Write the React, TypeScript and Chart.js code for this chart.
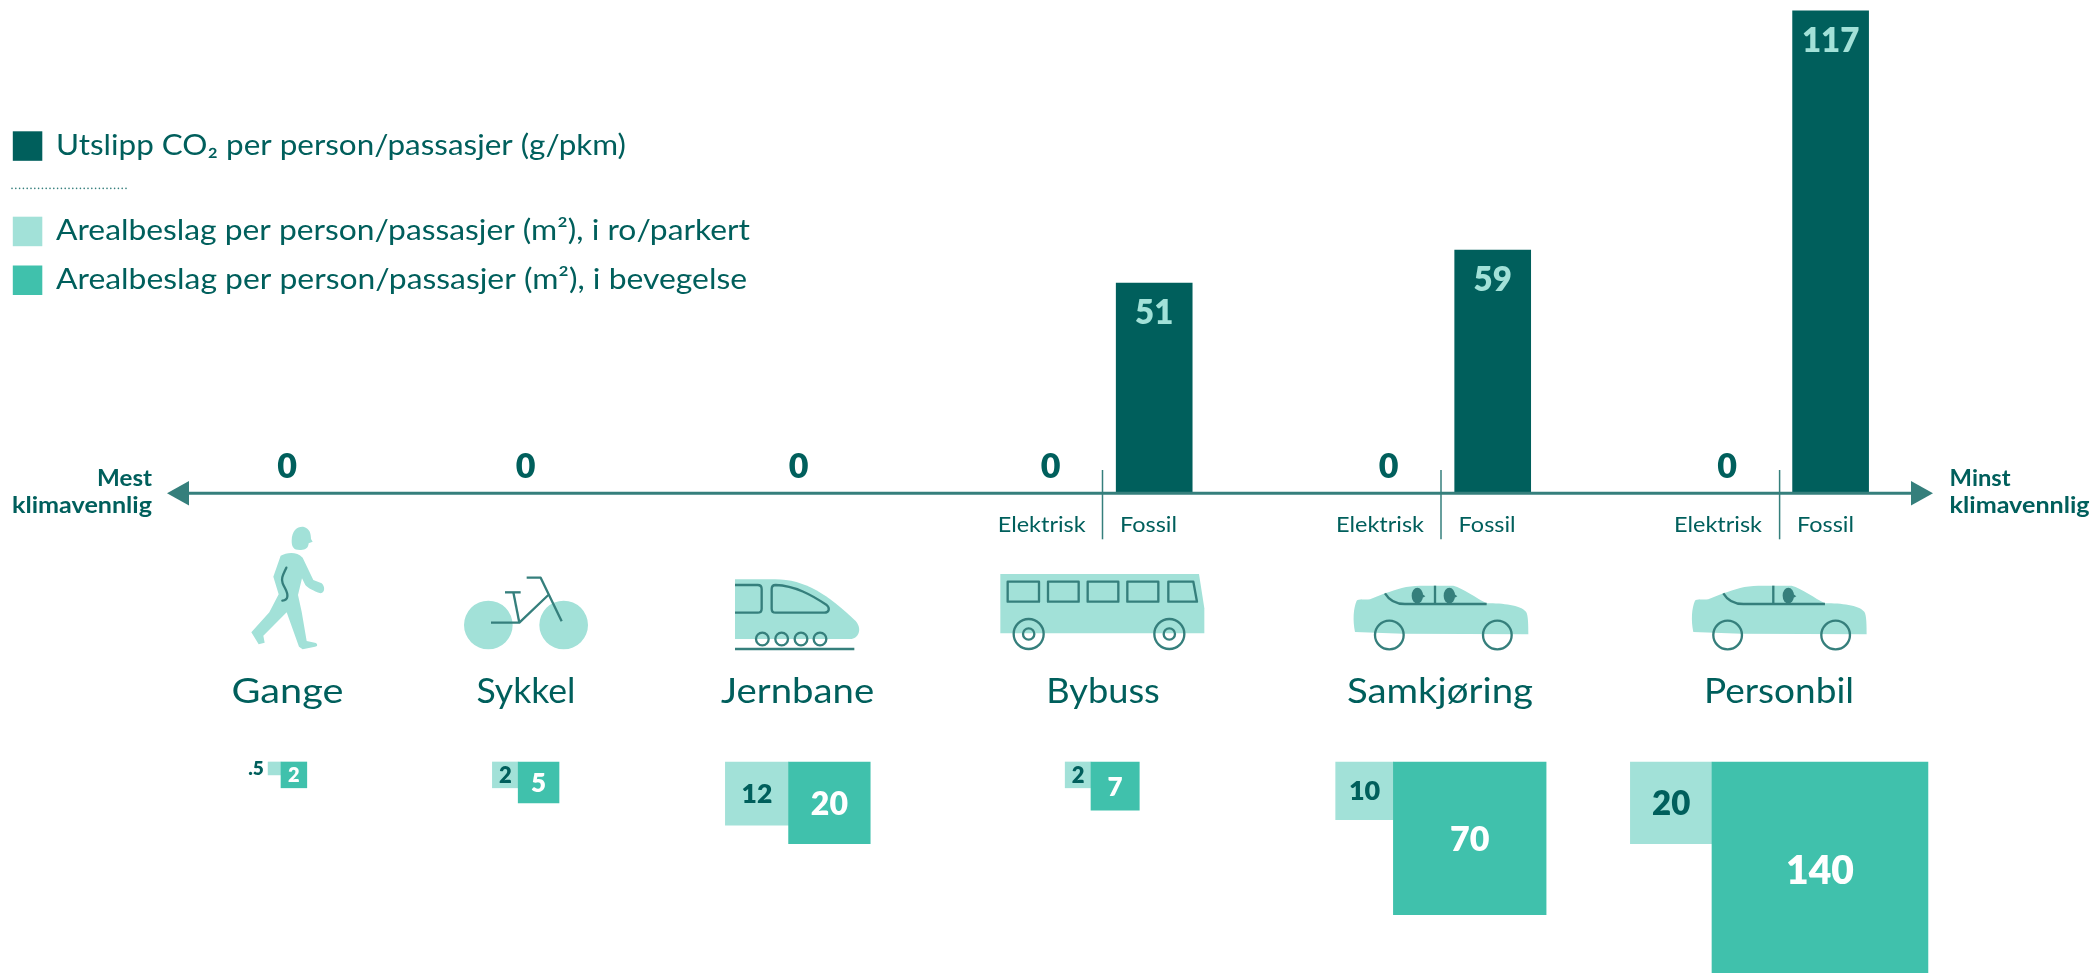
import React, { useEffect, useRef } from "react";
import { Chart, registerables } from "chart.js";

Chart.register(...registerables);

// ---- data ----
const categories = ["Gange", "Sykkel", "Jernbane", "Bybuss", "Samkjøring", "Personbil"];
const co2Zero = [0, 0, 0, 0, 0, 0];
const co2Fossil = [null, null, null, 51, 59, 117];
const parkedArea = [0.5, 2, 12, 2, 10, 20];
const movingArea = [2, 5, 20, 7, 70, 140];
const parkedLabels = [".5", "2", "12", "2", "10", "20"];
const movingLabels = ["2", "5", "20", "7", "70", "140"];
const legendLabels = [
  "Utslipp CO₂ per person/passasjer (g/pkm)",
  "Arealbeslag per person/passasjer (m²), i ro/parkert",
  "Arealbeslag per person/passasjer (m²), i bevegelse",
];
const axisEndLabels = [["Mest", "klimavennlig"], ["Minst", "klimavennlig"]];
const powerLabels = ["Elektrisk", "Fossil"];

// ---- layout and style ----
const W = 2094;
const H = 973;
const DARK = "#005F5C";
const MID = "#40C1AC";
const LIGHT = "#A2E1D8";
const LINE = "#357F7C";
const FONT = "Lato, sans-serif";
const AXIS_Y = 493.3;
const PX_PER_CO2 = 4.124;
const PX_PER_SQRT_M2 = 18.25;
const SQUARE_TOP = 762;
const nameX = [287.4, 526, 797.6, 1103, 1440, 1779];
const nameWidth = [112, 99, 153, 113.5, 186, 150];
const legendWidth = [570, 694, 691];
const zeroX = [287, 525.5, 798.6, 1050.7, 1388.5, 1727];
const fossilX = [0, 0, 0, 1154.2, 1492.7, 1830.6];
const dividerX = [0, 0, 0, 1102.5, 1441, 1779.6];
const elektriskRight = [0, 0, 0, 1085.7, 1424, 1762];
const fossilLeft = [0, 0, 0, 1120, 1458.6, 1797];
const squareJoinX = [281, 518.2, 788.6, 1091, 1393.4, 1712];
const parkedFont = [19, 22, 26.5, 22, 27, 33];
const movingFont = [20, 26, 32, 26, 34, 39];

type Ctx = CanvasRenderingContext2D;

function text(c: Ctx, s: string, x: number, y: number, font: string, color: string, align: CanvasTextAlign = "left", targetWidth = 0) {
  c.save();
  c.font = font;
  c.fillStyle = color;
  c.textAlign = align;
  c.textBaseline = "alphabetic";
  c.translate(x, y);
  if (targetWidth) c.scale(targetWidth / c.measureText(s).width, 1);
  c.fillText(s, 0, 0);
  c.restore();
}

function centred(c: Ctx, s: string, x: number, y: number, font: string, color: string) {
  c.font = font;
  const m = c.measureText(s);
  text(c, s, x, y + (m.actualBoundingBoxAscent - m.actualBoundingBoxDescent) / 2, font, color, "center");
}

function icon(c: Ctx, ox: number, oy: number, draw: () => void) {
  c.save();
  c.translate(ox, oy);
  c.scale(1 / 3, 1 / 3);
  c.lineWidth = 7;
  c.strokeStyle = LINE;
  c.fillStyle = LIGHT;
  c.lineJoin = "round";
  draw();
  c.restore();
}

function poly(c: Ctx, pts: number[][], close = false) {
  c.beginPath();
  pts.forEach((p, i) => (i ? c.lineTo(p[0], p[1]) : c.moveTo(p[0], p[1])));
  if (close) c.closePath();
}

function ring(c: Ctx, x: number, y: number, r: number) {
  c.beginPath();
  c.arc(x, y, r, 0, Math.PI * 2);
  c.stroke();
}

function walker(c: Ctx) {
  icon(c, 230, 515, () => {
    c.beginPath();
    c.moveTo(185, 78);
    c.bezierCurveTo(185, 45, 205, 33, 222, 36);
    c.bezierCurveTo(238, 40, 243, 55, 243, 72);
    c.lineTo(248, 80);
    c.lineTo(236, 85);
    c.bezierCurveTo(235, 100, 225, 106, 210, 105);
    c.bezierCurveTo(190, 105, 185, 95, 185, 78);
    c.closePath();
    c.fill();
    c.beginPath();
    c.moveTo(152, 122);
    c.bezierCurveTo(170, 112, 200, 108, 218, 128);
    c.lineTo(250, 195);
    c.lineTo(275, 205);
    c.bezierCurveTo(285, 215, 286, 232, 272, 235);
    c.bezierCurveTo(250, 228, 232, 218, 226, 210);
    c.lineTo(216, 190);
    c.lineTo(204, 240);
    c.lineTo(215, 290);
    c.lineTo(230, 378);
    c.lineTo(258, 384);
    c.bezierCurveTo(264, 390, 262, 394, 255, 395);
    c.lineTo(218, 403);
    c.lineTo(207, 395);
    c.lineTo(170, 292);
    c.lineTo(100, 362);
    c.lineTo(104, 383);
    c.lineTo(86, 388);
    c.lineTo(64, 352);
    c.lineTo(118, 292);
    c.lineTo(146, 238);
    c.lineTo(130, 185);
    c.closePath();
    c.fill();
    c.lineCap = "round";
    c.beginPath();
    c.moveTo(169, 158);
    c.bezierCurveTo(160, 178, 152, 190, 158, 205);
    c.bezierCurveTo(165, 222, 174, 230, 172, 245);
    c.bezierCurveTo(171, 254, 165, 256, 157, 257);
    c.stroke();
  });
}

function bike(c: Ctx) {
  icon(c, 450, 560, () => {
    c.beginPath();
    c.arc(115, 195, 73, 0, Math.PI * 2);
    c.arc(341, 195, 73, 0, Math.PI * 2);
    c.fill();
    c.lineCap = "butt";
    poly(c, [[230, 53], [272, 53], [335, 184]]);
    c.stroke();
    poly(c, [[123, 188], [208, 188], [295, 105]]);
    c.stroke();
    poly(c, [[165, 97], [212, 97]]);
    c.stroke();
    poly(c, [[190, 97], [208, 188]]);
    c.stroke();
  });
}

function train(c: Ctx) {
  icon(c, 725, 565, () => {
    c.beginPath();
    c.moveTo(30, 43);
    c.lineTo(150, 43);
    c.bezierCurveTo(240, 43, 310, 90, 392, 168);
    c.bezierCurveTo(412, 190, 402, 222, 375, 222);
    c.lineTo(30, 222);
    c.closePath();
    c.fill();
    c.beginPath();
    c.moveTo(30, 60);
    c.lineTo(98, 60);
    c.quadraticCurveTo(110, 60, 110, 72);
    c.lineTo(110, 131);
    c.quadraticCurveTo(110, 143, 98, 143);
    c.lineTo(30, 143);
    c.stroke();
    c.beginPath();
    c.moveTo(152, 60);
    c.bezierCurveTo(210, 62, 260, 90, 305, 120);
    c.bezierCurveTo(316, 130, 312, 143, 298, 143);
    c.lineTo(152, 143);
    c.quadraticCurveTo(140, 143, 140, 131);
    c.lineTo(140, 72);
    c.quadraticCurveTo(140, 60, 152, 60);
    c.closePath();
    c.stroke();
    [112, 170, 228, 285].forEach((x) => ring(c, x, 222, 19));
    poly(c, [[30, 252], [388, 252]]);
    c.stroke();
  });
}

function bus(c: Ctx) {
  icon(c, 990, 565, () => {
    poly(c, [[31, 27], [627, 27], [643, 130], [643, 205], [31, 205]], true);
    c.fill();
    [[53, 147], [174, 266], [293, 385], [412, 505]].forEach(([a, b]) => {
      poly(c, [[a, 50], [b, 50], [b, 110], [a, 110]], true);
      c.stroke();
    });
    poly(c, [[535, 50], [610, 50], [621, 110], [535, 110]], true);
    c.stroke();
    [116, 538].forEach((x) => {
      ring(c, x, 207, 45);
      ring(c, x, 207, 17);
    });
  });
}

function car(c: Ctx, ox: number, pillar: number, heads: number[]) {
  icon(c, ox, 570, () => {
    c.beginPath();
    c.moveTo(45, 186);
    c.bezierCurveTo(38, 150, 40, 115, 50, 92);
    c.bezierCurveTo(55, 87, 75, 90, 90, 88);
    c.lineTo(135, 70);
    c.bezierCurveTo(170, 58, 200, 47, 240, 47);
    c.lineTo(340, 47);
    c.bezierCurveTo(370, 55, 410, 85, 440, 100);
    c.bezierCurveTo(490, 100, 540, 105, 558, 125);
    c.bezierCurveTo(565, 135, 565, 170, 565, 193);
    c.lineTo(190, 191);
    c.closePath();
    c.fill();
    c.beginPath();
    c.moveTo(135, 70);
    c.bezierCurveTo(150, 95, 170, 102, 195, 102);
    c.lineTo(440, 102);
    c.stroke();
    poly(c, [[pillar, 47], [pillar, 102]]);
    c.stroke();
    c.fillStyle = LINE;
    heads.forEach((x) => {
      c.beginPath();
      c.ellipse(x, 77, 17, 24, 0, 0, Math.PI * 2);
      c.fill();
      poly(c, [[x + 15, 72], [x + 24, 79], [x + 15, 84]], true);
      c.fill();
    });
    ring(c, 148, 195, 43);
    ring(c, 472, 195, 43);
  });
}

const decorations = {
  id: "decorations",
  afterDatasetsDraw(chart: any) {
    const c: Ctx = chart.ctx;
    const x = chart.scales.x;
    const y = chart.scales.y;
    const base = y.getPixelForValue(0);
    c.save();
    c.strokeStyle = LINE;
    c.fillStyle = LINE;
    c.lineWidth = 3;
    c.beginPath();
    c.moveTo(x.getPixelForValue(185), base);
    c.lineTo(x.getPixelForValue(1915), base);
    c.stroke();
    poly(c, [[167, base], [189, base - 12.3], [189, base + 12.3]], true);
    c.fill();
    poly(c, [[1933, base], [1911, base - 12.3], [1911, base + 12.3]], true);
    c.fill();
    c.lineWidth = 1.5;
    dividerX.forEach((d) => {
      if (!d) return;
      c.beginPath();
      c.moveTo(d, 470);
      c.lineTo(d, 539.3);
      c.stroke();
    });
    c.restore();
  },
  afterDraw(chart: any) {
    const c: Ctx = chart.ctx;
    c.save();
    const swatchTop = [131.3, 216.7, 265.5];
    const swatchColor = [DARK, LIGHT, MID];
    const legendBase = [155, 240, 289];
    legendLabels.forEach((l, i) => {
      c.fillStyle = swatchColor[i];
      c.fillRect(12.8, swatchTop[i], 29.5, 29.5);
      text(c, l, 56, legendBase[i], `400 28px ${FONT}`, DARK, "left", legendWidth[i]);
    });
    c.fillStyle = LINE;
    for (let px = 12; px < 127; px += 3.8) {
      c.beginPath();
      c.arc(px, 188.4, 0.8, 0, Math.PI * 2);
      c.fill();
    }
    const endFont = `700 22px ${FONT}`;
    text(c, axisEndLabels[0][0], 152, 486, endFont, DARK, "right", 55);
    text(c, axisEndLabels[0][1], 152, 513, endFont, DARK, "right", 140);
    text(c, axisEndLabels[1][0], 1949.6, 486, endFont, DARK, "left", 61);
    text(c, axisEndLabels[1][1], 1949.6, 513, endFont, DARK, "left", 140);
    const zeroMeta = chart.getDatasetMeta(0);
    const fossilMeta = chart.getDatasetMeta(1);
    categories.forEach((name, i) => {
      centred(c, String(co2Zero[i]), zeroMeta.data[i].x, 465.5, `800 34px ${FONT}`, DARK);
      text(c, name, nameX[i], 702.5, `400 35px ${FONT}`, DARK, "center", nameWidth[i]);
      const v = co2Fossil[i];
      if (v !== null) {
        const bar = fossilMeta.data[i];
        centred(c, String(v), bar.x, bar.y + 29, `800 33px ${FONT}`, LIGHT);
        text(c, powerLabels[0], elektriskRight[i], 531.7, `400 22px ${FONT}`, DARK, "right", 88);
        text(c, powerLabels[1], fossilLeft[i], 531.7, `400 22px ${FONT}`, DARK, "left", 57);
      }
    });
    categories.forEach((_, i) => {
      const parked = chart.getDatasetMeta(2 + i * 2).data[0].getCenterPoint();
      const moving = chart.getDatasetMeta(3 + i * 2).data[0].getCenterPoint();
      if (parkedArea[i] < 1) {
        centred(c, parkedLabels[i], 256, 768, `800 ${parkedFont[i]}px ${FONT}`, DARK);
      } else {
        centred(c, parkedLabels[i], parked.x, parked.y, `800 ${parkedFont[i]}px ${FONT}`, DARK);
      }
      centred(c, movingLabels[i], moving.x, moving.y, `800 ${movingFont[i]}px ${FONT}`, "#FFFFFF");
    });
    walker(c);
    bike(c);
    train(c);
    bus(c);
    car(c, 1340, 285, [232, 328]);
    car(c, 1678.3, 285, [330]);
    c.restore();
  },
};

export default function App() {
  const ref = useRef<HTMLCanvasElement>(null);
  useEffect(() => {
    document.body.style.margin = "0";
    const side = (v: number) => Math.sqrt(v);
    const squareSets: any[] = [];
    categories.forEach((_, i) => {
      const p = side(parkedArea[i]);
      const m = side(movingArea[i]);
      squareSets.push({
        label: "Arealbeslag i ro",
        data: [{ x: squareJoinX[i] - (p * PX_PER_SQRT_M2) / 2, y: [0, p] }],
        backgroundColor: LIGHT,
        barThickness: p * PX_PER_SQRT_M2,
        yAxisID: "area",
        grouped: false,
        order: 2,
      });
      squareSets.push({
        label: "Arealbeslag i bevegelse",
        data: [{ x: squareJoinX[i] + (m * PX_PER_SQRT_M2) / 2, y: [0, m] }],
        backgroundColor: MID,
        barThickness: m * PX_PER_SQRT_M2,
        yAxisID: "area",
        grouped: false,
        order: 1,
      });
    });
    const chart = new Chart(ref.current as HTMLCanvasElement, {
      type: "bar",
      data: {
        datasets: [
          {
            label: "Elektrisk",
            data: categories.map((_, i) => ({ x: zeroX[i], y: co2Zero[i] })),
            backgroundColor: "rgba(0,0,0,0)",
            barThickness: 76,
            yAxisID: "y",
            grouped: false,
          },
          {
            label: "Fossil",
            data: categories.map((_, i) => ({ x: fossilX[i], y: co2Fossil[i] })),
            backgroundColor: DARK,
            barThickness: 76,
            yAxisID: "y",
            grouped: false,
          },
          ...squareSets,
        ] as any,
      },
      options: {
        animation: false,
        responsive: false,
        layout: { padding: 0 },
        plugins: { legend: { display: false }, tooltip: { enabled: false } },
        scales: {
          x: { type: "linear", min: 0, max: W, display: false, offset: false },
          y: { min: -(H - AXIS_Y) / PX_PER_CO2, max: AXIS_Y / PX_PER_CO2, display: false },
          area: {
            reverse: true,
            min: -SQUARE_TOP / PX_PER_SQRT_M2,
            max: (H - SQUARE_TOP) / PX_PER_SQRT_M2,
            display: false,
          },
        },
      } as any,
      plugins: [decorations],
    });
    return () => chart.destroy();
  }, []);
  return (
    <div style={{ position: "absolute", left: 0, top: 0, width: W, height: H, overflow: "hidden", background: "#fff" }}>
      <canvas ref={ref} width={W} height={H} style={{ display: "block" }} />
    </div>
  );
}
